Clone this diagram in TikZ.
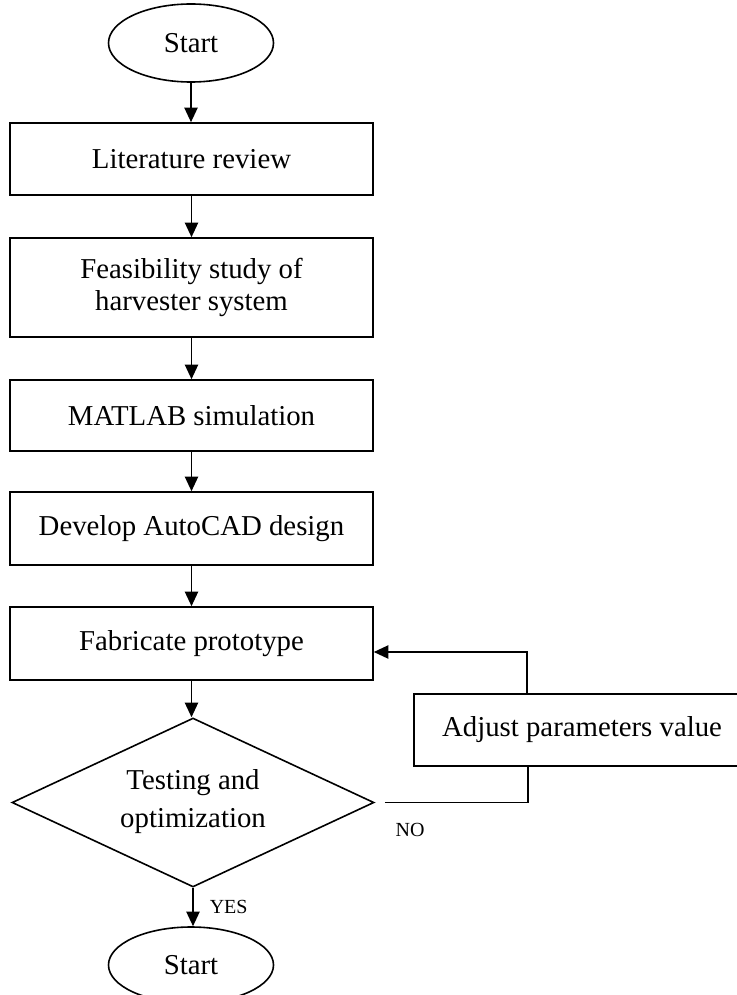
\documentclass[tikz,border=0pt]{standalone}
\usepackage{fontspec}
\setmainfont{Liberation Serif}
\usetikzlibrary{shapes.geometric,arrows.meta}
\begin{document}
\begin{tikzpicture}[x=0.75pt,y=-0.75pt,line width=1.2pt,
  every node/.style={font=\fontsize{21.6}{24}\selectfont},
  procbox/.style={draw,rectangle,minimum width=272.25pt,inner sep=0pt,align=center},
  terminal/.style={draw,ellipse,minimum width=123.75pt,minimum height=58.5pt,inner sep=0pt},
  decision/.style={draw,diamond,minimum width=271.5pt,minimum height=126.75pt,inner sep=0pt},
  decisiontext/.style={align=center,inner sep=0pt,font=\fontsize{21.6}{28.5}\selectfont},
  flow/.style={-{Triangle[width=10pt,length=11pt]}},
  tag/.style={font=\fontsize{15}{18}\selectfont,inner sep=0pt}
]
% page frame
\path[use as bounding box,fill=white] (0,0) rectangle (736,995);

% main column
\node[terminal] (begin) at (191,43) {Start};
\node[procbox,minimum height=54pt] (lit) at (191.5,159) {Literature review};
\node[procbox,minimum height=74.25pt] (feas) at (191.5,287.5) {Feasibility study of\\harvester system};
\node[procbox,minimum height=53.25pt] (sim) at (191.5,415.5) {MATLAB simulation};
\node[procbox,minimum height=54.75pt] (cad) at (191.5,528.5) {Develop AutoCAD design};
\node[procbox,minimum height=54.75pt] (fab) at (191.5,643.5) {Fabricate prototype};
\node[decision] (test) at (193,802.5) {};
\node[decisiontext] (testtxt) at ([yshift=1pt]test.center) {Testing and\\optimization};
\node[terminal,minimum height=57pt] (finish) at (191,965) {Start};

% feedback branch
\node[procbox,minimum width=252pt,minimum height=54pt] (adj) at (582,730) {Adjust parameters value};
\node[tag] (nolab) at (410,830) {NO};

% downward flow
\draw[flow] (begin.south) -- (begin.south |- lit.north);
\draw[flow] (lit.south) -- (feas.north);
\draw[flow] (feas.south) -- (sim.north);
\draw[flow] (sim.south) -- (cad.north);
\draw[flow] (cad.south) -- (fab.north);
\draw[flow] (fab.south) -- (fab.south |- test.north);
\draw[flow] (test.south) -- (test.south |- finish.north)
  node[tag,midway,anchor=west,xshift=12pt] (yeslab) {YES};

% NO loop back to fabrication
\coordinate (nobend) at (528,802.5);
\draw ([xshift=7.5pt]test.east) -- (nobend) -- (nobend |- adj.south);
\coordinate (backbend) at (527,652);
\draw[flow] (backbend |- adj.north) -- (backbend) -- (backbend -| fab.east);
\end{tikzpicture}
\end{document}
